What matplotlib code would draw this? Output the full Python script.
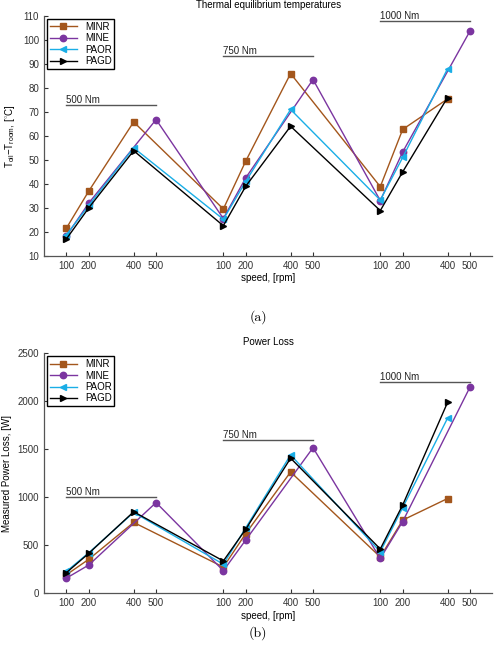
#! /usr/bin/env python
'''
Thermal equilibrium temperatures and measured power loss
for the four control strategies at three torque levels
'''

import matplotlib
matplotlib.use("Agg")
import matplotlib.pyplot as plt

plt.rcParams['font.family'] = ['Liberation Sans', 'DejaVu Sans']
plt.rcParams['mathtext.fontset'] = 'custom'
plt.rcParams['mathtext.rm'] = 'Liberation Sans'
plt.rcParams['mathtext.it'] = 'Liberation Sans:italic'

# torque levels (one group of speeds each)
torques = [500, 750, 1000]
tick_speeds = [100, 200, 400, 500]

# speeds measured per strategy (same in every torque group)
minr_speeds = [100, 200, 400]
mine_speeds = [100, 200, 500]
paor_speeds = [100, 200, 400]
pagd_speeds = [100, 200, 400]

# T_oil - T_room [C], 3 values per torque group
minr_temp = [21.5, 37.0, 65.8, 29.5, 49.5, 86.0, 38.8, 62.7, 75.4]
mine_temp = [18.3, 32.0, 66.8, 25.5, 42.5, 83.5, 33.0, 53.3, 103.7]
paor_temp = [18.7, 31.0, 55.0, 25.2, 41.0, 71.0, 33.2, 51.0, 88.0]
pagd_temp = [17.0, 30.0, 53.8, 22.5, 39.0, 64.0, 28.8, 45.0, 76.0]

# measured power loss [W]
minr_loss = [190, 352, 736, 270, 620, 1262, 375, 760, 985]
mine_loss = [155, 292, 943, 232, 553, 1515, 360, 745, 2147]
paor_loss = [225, 420, 840, 300, 680, 1440, 430, 890, 1823]
pagd_loss = [212, 414, 847, 334, 665, 1406, 459, 918, 1987]

# height of the torque-level bars on each chart
temp_bar = [73, 93.5, 108]
loss_bar = [1000, 1600, 2200]

GAP = 7  # x units between torque groups


def xpos(speeds):
   # place speeds of every torque group side by side on one axis
   return [s / 100.0 + GAP * g for g in range(len(torques)) for s in speeds]


series = [
   ("MINR", minr_speeds, minr_temp, minr_loss, "#A3561C", "s", 3.8),
   ("MINE", mine_speeds, mine_temp, mine_loss, "#7B35A0", "o", 4.6),
   ("PAOR", paor_speeds, paor_temp, paor_loss, "#1AAEE6", "<", 5.0),
   ("PAGD", pagd_speeds, pagd_temp, pagd_loss, "#000000", ">", 5.0),
]

fig = plt.figure(figsize=(5.01, 6.53), dpi=100)
ax1 = fig.add_axes([0.0878, 0.6084, 0.895, 0.3671])
ax2 = fig.add_axes([0.0878, 0.0919, 0.895, 0.3671])

charts = [
   (ax1, 2, temp_bar, (10, 110), 10, "Thermal equilibrium temperatures",
    r"T$_{\mathrm{oil}}$$-$T$_{\mathrm{room}}$, [$^{\circ}$C]"),
   (ax2, 3, loss_bar, (0, 2500), 500, "Power Loss",
    "Measured Power Loss, [W]"),
]

for ax, col, bars, ylim, ystep, title, ylabel in charts:
   for s in series:
      ax.plot(xpos(s[1]), s[col], color=s[4], marker=s[5], markersize=s[6],
              linewidth=1.0, label=s[0])

   # torque level markers
   for g, t in enumerate(torques):
      x0 = 1 + GAP * g
      x1 = 5 + GAP * g
      ax.plot([x0, x1], [bars[g], bars[g]], color="#555555", linewidth=1.0)
      ax.text(x0, bars[g], "%d Nm" % t, fontsize=7, color="#222222",
              ha="left", va="bottom")

   ax.set_xlim(0, 20)
   ax.set_ylim(*ylim)
   ax.set_yticks(range(ylim[0], ylim[1] + 1, ystep))
   ax.set_xticks(xpos(tick_speeds))
   ax.set_xticklabels([str(s) for s in tick_speeds] * len(torques))
   ax.tick_params(direction="in", length=3, labelsize=7, colors="#333333",
                  width=0.8)
   for side in ["top", "right"]:
      ax.spines[side].set_visible(False)
   for side in ["left", "bottom"]:
      ax.spines[side].set_color("#555555")
      ax.spines[side].set_linewidth(0.9)

   ax.set_title(title, fontsize=7, pad=6)
   ax.set_xlabel("speed, [rpm]", fontsize=7, labelpad=2)
   ax.set_ylabel(ylabel, fontsize=7, labelpad=4)

   leg = ax.legend(loc="upper left", fontsize=7, fancybox=False,
                   handlelength=2.8, borderpad=0.3, labelspacing=0.15,
                   borderaxespad=0.3, framealpha=1)
   leg.get_frame().set_edgecolor("black")
   leg.get_frame().set_linewidth(1.0)

# sub-figure captions
fig.text(0.515, 0.514, "(a)", fontsize=10, family="cmr10", ha="center", va="center")
fig.text(0.515, 0.031, "(b)", fontsize=10, family="cmr10", ha="center", va="center")

fig.savefig("out.png", dpi=100)
